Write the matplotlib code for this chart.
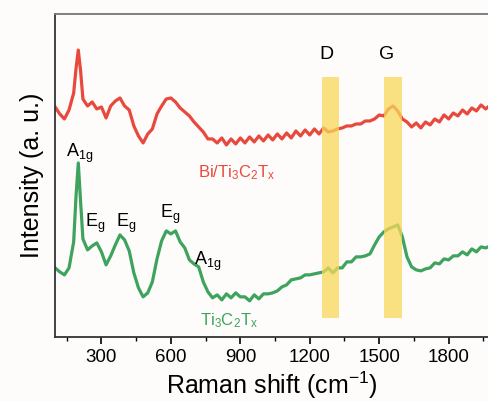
import matplotlib
matplotlib.use('Agg')
import matplotlib.pyplot as plt
from matplotlib.ticker import MultipleLocator

plt.rcParams['font.family'] = ['Liberation Sans', 'DejaVu Sans']
plt.rcParams['mathtext.fontset'] = 'custom'
plt.rcParams['mathtext.rm'] = 'Liberation Sans'
plt.rcParams['mathtext.it'] = 'Liberation Sans'

# Raman shift (cm^-1)
shift = [100, 120, 140, 160, 180, 190, 200, 210, 220, 240, 260, 280, 300, 320, 340,
         360, 380, 400, 420, 440, 460, 480, 500, 520, 540, 560, 580, 600, 620, 640,
         660, 680, 700, 720, 740, 760, 780, 800, 820, 840, 860, 880, 900, 920, 940,
         960, 980, 1000, 1020, 1040, 1060, 1080, 1100, 1120, 1140, 1160, 1180, 1200,
         1220, 1240, 1260, 1280, 1300, 1320, 1340, 1360, 1380, 1400, 1420, 1440, 1460,
         1480, 1500, 1520, 1540, 1560, 1580, 1600, 1620, 1640, 1660, 1680, 1700, 1720,
         1740, 1760, 1780, 1800, 1820, 1840, 1860, 1880, 1900, 1920, 1940, 1960, 1980]

# Bi/Ti3C2Tx (offset, a.u.)
bi_ti3c2tx = [230, 223, 218, 227, 244, 268, 287, 266, 238, 231, 235, 228, 230, 219, 231,
              236, 239, 231, 227, 211, 201, 194, 203, 208, 223, 231, 238, 239, 235, 229,
              225, 221, 215, 210, 205, 198, 198, 194, 199, 192, 198, 193, 199, 194, 200,
              195, 201, 196, 202, 197, 203, 198, 204, 199, 206, 201, 207, 202,
              208, 203, 209, 205, 206, 208, 209, 211, 211, 213, 213, 216, 216,
              218, 222, 221, 228, 231, 226, 218, 215, 210, 214, 209, 215, 212,
              218, 215, 222, 218, 224, 221, 227, 223, 229, 226, 232, 228, 232]

# Ti3C2Tx (a.u.)
ti3c2tx = [69, 65, 62, 69, 95, 140, 174, 135, 98, 87, 91, 94, 85, 72, 81,
           92, 102, 97, 86, 64, 49, 40, 44, 55, 78, 96, 106, 103, 106, 95,
           89, 77, 73, 70, 55, 45, 39, 42, 37, 43, 39, 44, 40, 40, 36,
           42, 38, 43, 43, 44, 46, 50, 52, 57, 58, 59, 62, 62,
           63, 64, 65, 69, 64, 69, 69, 75, 75, 80, 80, 81, 83,
           92, 100, 105, 108, 110, 112, 100, 80, 70, 67, 66, 68, 69,
           74, 73, 78, 77, 81, 81, 85, 82, 88, 85, 90, 89, 91]

# D and G band regions
bands = [(1251, 1327), (1521, 1597)]
band_names = ['D', 'G']
band_label_x = [1274, 1533]

red = '#E8493D'
green = '#3DA35D'

fig = plt.figure(figsize=(4.88, 4.01), dpi=100)
fig.patch.set_facecolor('#fdfcfb')
ax = fig.add_axes([0.113, 0.160, 0.887, 0.805])
ax.set_facecolor('#fdfcfb')

ax.plot(shift, bi_ti3c2tx, color=red, linewidth=2.3)
ax.plot(shift, ti3c2tx, color=green, linewidth=2.3)

for (x0, x1), name, lx in zip(bands, band_names, band_label_x):
    ax.fill_between([x0, x1], 19, 260, color='#F8D85A', alpha=0.75, linewidth=0, zorder=3)
    ax.text(lx, 278, name, fontsize=14, ha='center', va='baseline')

# peak assignments
ax.text(148, 180, r'A$_\mathregular{1g}$', fontsize=13)
ax.text(231, 110, r'E$_\mathregular{g}$', fontsize=13)
ax.text(365, 110, r'E$_\mathregular{g}$', fontsize=13)
ax.text(555, 119, r'E$_\mathregular{g}$', fontsize=13)
ax.text(702, 72, r'A$_\mathregular{1g}$', fontsize=13)

ax.text(716, 160, r'Bi/Ti$_\mathregular{3}$C$_\mathregular{2}$T$_\mathregular{x}$',
        fontsize=12, color=red)
ax.text(724, 12, r'Ti$_\mathregular{3}$C$_\mathregular{2}$T$_\mathregular{x}$',
        fontsize=12, color=green)

ax.set_xlim(100, 1970)
ax.set_ylim(0, 323)
ax.xaxis.set_minor_locator(MultipleLocator(150))
ax.set_xticks([300, 600, 900, 1200, 1500, 1800])
ax.set_yticks([])
ax.tick_params(axis='x', which='major', direction='out', length=5, width=1.2,
               labelsize=13.5, pad=4)
ax.tick_params(axis='x', which='minor', direction='out', length=3, width=1.0)

ax.spines['right'].set_visible(False)
ax.spines['top'].set_color('#777777')
for s in ['left', 'bottom', 'top']:
    ax.spines[s].set_linewidth(1.3)
ax.spines['left'].set_color('#333333')
ax.spines['bottom'].set_color('#333333')

ax.set_xlabel('Raman shift (cm$^{-1}$)', fontsize=18, labelpad=2)
ax.set_ylabel('Intensity (a. u.)', fontsize=18, labelpad=8)

fig.savefig('out.png', dpi=100, facecolor=fig.get_facecolor())
